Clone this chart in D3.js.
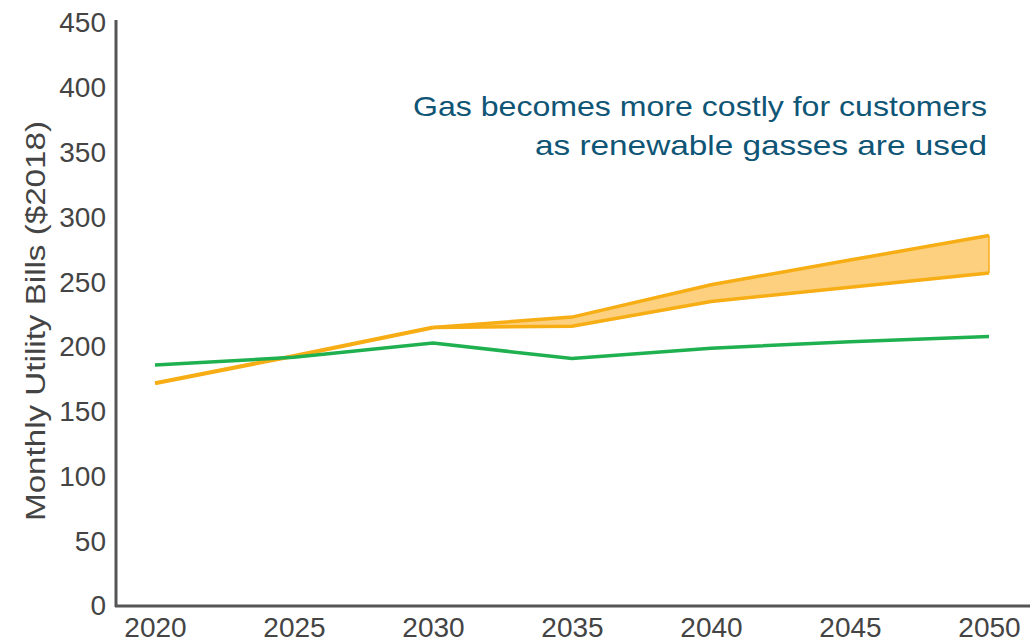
<!DOCTYPE html>
<html>
<head>
<meta charset="utf-8">
<script src="https://cdn.jsdelivr.net/npm/d3@7"></script>
<style>
  html, body { margin: 0; padding: 0; background: #fff; }
  svg { display: block; }
</style>
</head>
<body>
<svg id="chart" width="1030" height="643"></svg>
<script>
// Monthly utility bills, $2018
const years = [2020, 2025, 2030, 2035, 2040, 2045, 2050];
const electricBills = [186, 192, 203, 191, 199, 204, 208];
const gasBills = [172, 193, 215, null, null, null, null];
const gasRangeYears = [2030, 2035, 2040, 2045, 2050];
const gasHigh = [215, 223, 248, 267, 286];
const gasLow = [215, 216, 235, 246, 257];
const yTicks = [0, 50, 100, 150, 200, 250, 300, 350, 400, 450];
const noteLines = ["Gas becomes more costly for customers", "as renewable gasses are used"];
const noteWidths = [574, 452];

const svg = d3.select("#chart");
const x = d3.scaleLinear().domain([2020, 2050]).range([155, 989]);
const y = d3.scaleLinear().domain([0, 450]).range([606, 23]);

const orange = "#F7AD14";
const green = "#1FB04F";
const font = "Liberation Sans, Arial, sans-serif";

// shaded gas range
const rangeData = gasRangeYears.map((yr, i) => ({ yr, hi: gasHigh[i], lo: gasLow[i] }));
svg.append("path")
  .datum(rangeData)
  .attr("fill", "#FCD07E")
  .attr("d", d3.area().x(d => x(d.yr)).y0(d => y(d.lo)).y1(d => y(d.hi)));

const line = d3.line().x(d => x(d[0])).y(d => y(d[1]));

// range edges
[gasHigh, gasLow].forEach(arr => {
  svg.append("path")
    .datum(gasRangeYears.map((yr, i) => [yr, arr[i]]))
    .attr("fill", "none").attr("stroke", orange).attr("stroke-width", 3.5)
    .attr("d", line);
});
svg.append("line")
  .attr("x1", x(2050)).attr("x2", x(2050))
  .attr("y1", y(gasHigh[4])).attr("y2", y(gasLow[4]))
  .attr("stroke", orange).attr("stroke-width", 1.5);

// gas line before divergence
svg.append("path")
  .datum(years.map((yr, i) => [yr, gasBills[i]]).filter(d => d[1] != null))
  .attr("fill", "none").attr("stroke", orange).attr("stroke-width", 4)
  .attr("d", line);

// electric line
svg.append("path")
  .datum(years.map((yr, i) => [yr, electricBills[i]]))
  .attr("fill", "none").attr("stroke", green).attr("stroke-width", 3.5)
  .attr("d", line);

// axes
const axisColor = "#555";
svg.append("line").attr("x1", 116).attr("x2", 116).attr("y1", 20).attr("y2", 607)
  .attr("stroke", axisColor).attr("stroke-width", 3);
svg.append("line").attr("x1", 115).attr("x2", 1030).attr("y1", 606).attr("y2", 606)
  .attr("stroke", axisColor).attr("stroke-width", 3);

const yAxis = d3.axisLeft(y).tickValues(yTicks).tickSize(0).tickPadding(0);
const gy = svg.append("g").attr("transform", "translate(106,0)").call(yAxis);
gy.select(".domain").remove();
gy.selectAll("text")
  .attr("font-family", font)
  .attr("font-size", 28).attr("fill", "#444");

const xAxis = d3.axisBottom(x).tickValues(years).tickFormat(d3.format("d")).tickSize(0).tickPadding(0);
const gx = svg.append("g").attr("transform", "translate(0,612)").call(xAxis);
gx.select(".domain").remove();
gx.selectAll("text")
  .attr("font-family", font)
  .attr("font-size", 28).attr("fill", "#444")
  .attr("dy", "0.9em");

// y axis title
svg.append("text")
  .attr("transform", "translate(45,321) rotate(-90)")
  .attr("text-anchor", "middle")
  .attr("font-family", font)
  .attr("font-size", 27).attr("fill", "#444")
  .attr("textLength", 400).attr("lengthAdjust", "spacingAndGlyphs")
  .text("Monthly Utility Bills ($2018)");

// annotation
svg.append("g").selectAll("text").data(noteLines).join("text")
  .attr("x", 987).attr("y", (d, i) => 116 + i * 39)
  .attr("text-anchor", "end")
  .attr("font-family", font)
  .attr("font-size", 28).attr("fill", "#0F5575")
  .attr("textLength", (d, i) => noteWidths[i]).attr("lengthAdjust", "spacingAndGlyphs")
  .text(d => d);
</script>
</body>
</html>
